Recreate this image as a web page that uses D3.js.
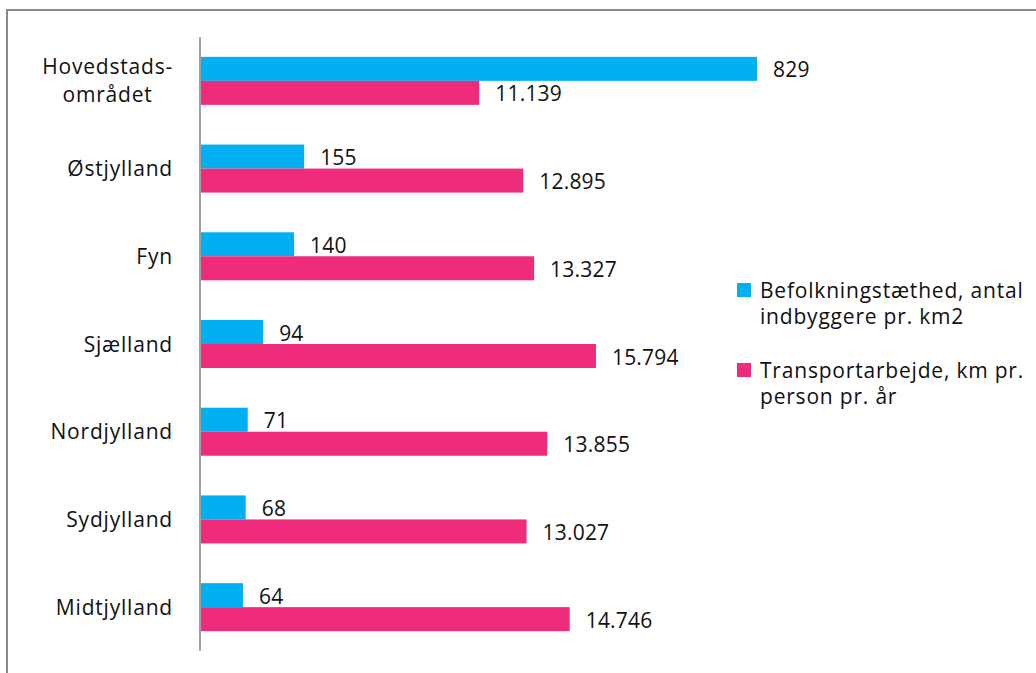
<!DOCTYPE html>
<html>
<head>
<meta charset="utf-8">
<script src="https://cdn.jsdelivr.net/npm/d3@7"></script>
<style>
  html, body { margin: 0; padding: 0; background: #fff; }
  svg { display: block; }
  text { font-family: "Open Sans", Lato, sans-serif; fill: #111; }
</style>
</head>
<body>
<svg id="chart" width="1036" height="673"></svg>
<script>
// Regions (top to bottom) and the two measured series
const regions = ["Hovedstads-\nområdet", "Østjylland", "Fyn", "Sjælland", "Nordjylland", "Sydjylland", "Midtjylland"];
const density = [829, 155, 140, 94, 71, 68, 64];                              // inhabitants per km2
const transport = [11139, 12895, 13327, 15794, 13855, 13027, 14746];          // km per person per year
const seriesNames = ["Befolkningstæthed, antal\nindbyggere pr. km2", "Transportarbejde, km pr.\nperson pr. år"];
const seriesColors = ["#00B0F0", "#EE2C7B"];

const svg = d3.select("#chart");
const fontSize = 21;
const wordSpacing = "0.8px";
const da = d3.formatLocale({ decimal: ",", thousands: ".", grouping: [3], currency: ["", " kr."] });
const fmt = da.format(",d");

// Outer frame (top and left edges visible)
svg.append("path")
  .attr("d", "M7,673V10H1036")
  .attr("fill", "none")
  .attr("stroke", "#8a8a8a")
  .attr("stroke-width", 2);

const axisX = 200;
const y = d3.scaleBand().domain(regions).range([37, 651]);
const barH = 24;

// Each series has its own horizontal scale
const xDensity = d3.scaleLinear().domain([0, 1000]).range([axisX, axisX + 672]);
const xTransport = d3.scaleLinear().domain([0, 20000]).range([axisX, axisX + 501.4]);

const rows = regions.map((r, i) => ({ region: r, density: density[i], transport: transport[i] }));
const g = svg.append("g");

const series = [
  { key: "density", scale: xDensity, color: seriesColors[0], off: -barH },
  { key: "transport", scale: xTransport, color: seriesColors[1], off: 0 }
];

series.forEach(s => {
  g.selectAll(null).data(rows).enter().append("rect")
    .attr("x", axisX)
    .attr("y", d => y(d.region) + y.bandwidth() / 2 + s.off)
    .attr("width", d => s.scale(d[s.key]) - axisX)
    .attr("height", barH)
    .attr("fill", s.color);

  g.selectAll(null).data(rows).enter().append("text")
    .attr("x", d => s.scale(d[s.key]) + 16)
    .attr("y", d => y(d.region) + y.bandwidth() / 2 + s.off + barH / 2 + 8.5)
    .style("font-size", fontSize + "px")
    .style("letter-spacing", "0.2px")
    .text(d => fmt(d[s.key]));
});

// Category axis line
svg.append("line")
  .attr("x1", axisX).attr("x2", axisX)
  .attr("y1", 37).attr("y2", 651)
  .attr("stroke", "#a0a0a0")
  .attr("stroke-width", 2);

// Category labels; multi-line labels are centred within their block
const labelRight = 173;
regions.forEach(r => {
  const lines = r.split("\n");
  const cy = y(r) + y.bandwidth() / 2;
  const lineH = 28;
  const t = svg.append("g");
  const texts = lines.map((ln, k) => t.append("text")
    .attr("y", cy + 7.5 + (k - (lines.length - 1) / 2) * lineH)
    .style("font-size", fontSize + "px")
    .style("letter-spacing", wordSpacing)
    .text(ln));
  if (lines.length > 1) {
    const w = d3.max(texts, tx => tx.node().getComputedTextLength());
    texts.forEach(tx => tx.attr("x", labelRight - w / 2).attr("text-anchor", "middle"));
  } else {
    texts[0].attr("x", labelRight).attr("text-anchor", "end");
  }
});

// Legend
const legendTop = [283, 363];
seriesNames.forEach((name, i) => {
  const lg = svg.append("g");
  lg.append("rect")
    .attr("x", 737).attr("y", legendTop[i])
    .attr("width", 14).attr("height", 14)
    .attr("fill", seriesColors[i]);
  name.split("\n").forEach((ln, k) => {
    lg.append("text")
      .attr("x", 760)
      .attr("y", legendTop[i] + 14.5 + k * 26)
      .style("font-size", fontSize + "px")
      .style("letter-spacing", wordSpacing)
      .text(ln);
  });
});
</script>
</body>
</html>
